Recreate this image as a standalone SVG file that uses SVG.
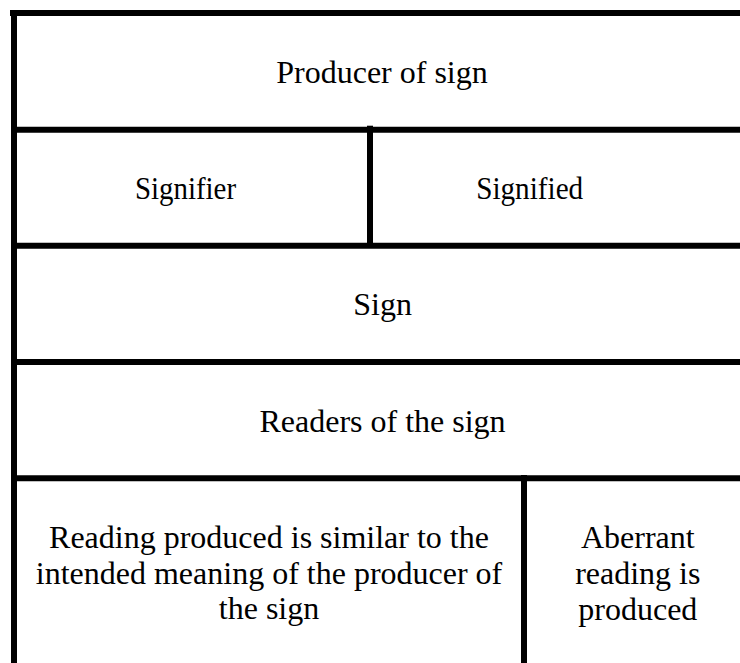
<svg xmlns="http://www.w3.org/2000/svg" width="740" height="663" viewBox="0 0 740 663">
<style>
.t{font-family:"Liberation Serif","Times New Roman",serif;font-size:32px;fill:#000;text-anchor:middle}
.l{stroke:#000;stroke-width:6;fill:none}
</style>
<rect width="740" height="663" fill="#fff"/>
<g id="grid">
<line class="l" x1="10" y1="13" x2="740" y2="13"/>
<line class="l" x1="14" y1="10" x2="14" y2="663"/>
<line class="l" x1="14" y1="129.7" x2="740" y2="129.7"/>
<line class="l" x1="14" y1="245.7" x2="740" y2="245.7"/>
<line class="l" x1="14" y1="362" x2="740" y2="362"/>
<line class="l" x1="14" y1="478.3" x2="740" y2="478.3"/>
<line class="l" x1="370" y1="125.7" x2="370" y2="246"/>
<line class="l" x1="524" y1="475" x2="524" y2="663"/>
</g>
<g id="producer"><text class="t" x="382" y="83">Producer of sign</text></g>
<g id="signifier"><text class="t" x="185.5" y="198.5" textLength="101" lengthAdjust="spacingAndGlyphs">Signifier</text></g>
<g id="signified"><text class="t" x="529.7" y="198.5" textLength="107" lengthAdjust="spacingAndGlyphs">Signified</text></g>
<g id="sign"><text class="t" x="382.6" y="314.5">Sign</text></g>
<g id="readers"><text class="t" x="382.5" y="431.7">Readers of the sign</text></g>
<g id="similar">
<text class="t" x="269" y="547.7">Reading produced is similar to the</text>
<text class="t" x="269" y="583.5">intended meaning of the producer of</text>
<text class="t" x="269" y="619.3">the sign</text>
</g>
<g id="aberrant">
<text class="t" x="637.8" y="547.5">Aberrant</text>
<text class="t" x="637.8" y="584">reading is</text>
<text class="t" x="637.8" y="620">produced</text>
</g>
</svg>
